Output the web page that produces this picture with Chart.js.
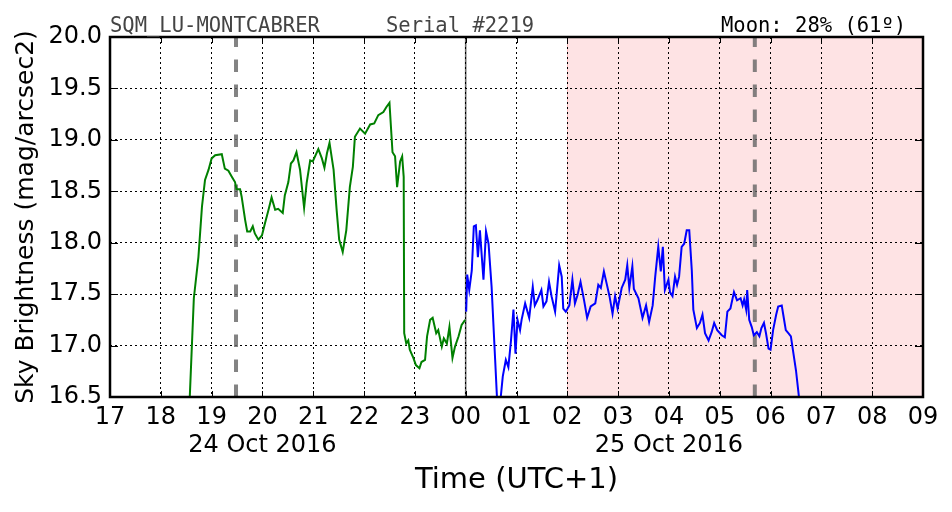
<!DOCTYPE html>
<html lang="en">
<head>
<meta charset="UTF-8">
<title>SQM_LU-MONTCABRER</title>
<script src="https://cdn.jsdelivr.net/npm/chart.js@4"></script>
<style>
    html, body { margin: 0; padding: 0; background: #ffffff; }
    #wrap { width: 952px; height: 512px; }
</style>
</head>
<body>
<div id="wrap"><canvas id="sqmChart" width="952" height="512"></canvas></div>
<script>
// hours counted from 24 Oct 2016 00:00 (UTC+1), brightness in mag/arcsec2
const eveningHours = [18.50, 18.57, 18.65, 18.74, 18.81, 18.87, 18.94, 19.00, 19.07, 19.20, 19.26, 19.33, 19.40, 19.46,
    19.49, 19.56, 19.59, 19.66, 19.70, 19.76, 19.81, 19.85, 19.92, 19.99, 20.05, 20.12, 20.18, 20.25, 20.31, 20.40,
    20.44, 20.51, 20.56, 20.61, 20.67, 20.74, 20.82, 20.87, 20.94, 20.99, 21.10, 21.17, 21.22, 21.27, 21.32, 21.40,
    21.46, 21.51, 21.58, 21.65, 21.72, 21.78, 21.82, 21.92, 22.02, 22.12, 22.20, 22.28, 22.38, 22.44, 22.50, 22.56,
    22.61, 22.65, 22.71, 22.75, 22.78, 22.79, 22.83, 22.87, 22.90, 22.97, 23.02, 23.09, 23.13, 23.20, 23.24, 23.30,
    23.35, 23.42, 23.46, 23.53, 23.57, 23.63, 23.68, 23.74, 23.79, 23.86, 23.92, 23.99];
const eveningMag = [16.30, 16.50, 17.46, 17.86, 18.35, 18.61, 18.71, 18.82, 18.85, 18.86, 18.72, 18.70, 18.64, 18.59,
    18.52, 18.52, 18.45, 18.22, 18.11, 18.11, 18.16, 18.09, 18.03, 18.07, 18.19, 18.32, 18.44, 18.32, 18.33, 18.29,
    18.46, 18.59, 18.77, 18.80, 18.88, 18.71, 18.34, 18.58, 18.80, 18.79, 18.91, 18.82, 18.73, 18.87, 18.97, 18.71,
    18.32, 18.03, 17.91, 18.12, 18.54, 18.74, 19.03, 19.11, 19.06, 19.15, 19.16, 19.24, 19.27, 19.32, 19.36, 18.88,
    18.84, 18.54, 18.79, 18.84, 18.64, 17.12, 17.02, 17.05, 16.96, 16.88, 16.81, 16.78, 16.84, 16.86, 17.09, 17.25,
    17.27, 17.12, 17.15, 16.99, 17.07, 17.02, 17.18, 16.88, 16.99, 17.09, 17.20, 17.25];

const morningHours = [24.01, 24.03, 24.07, 24.12, 24.16, 24.20, 24.24, 24.28, 24.35, 24.40, 24.45, 24.51, 24.58, 24.62,
    24.68, 24.73, 24.79, 24.84, 24.89, 24.94, 24.98, 25.02, 25.07, 25.10, 25.17, 25.25, 25.32, 25.36, 25.41, 25.49,
    25.53, 25.59, 25.64, 25.69, 25.76, 25.84, 25.89, 25.92, 25.97, 26.04, 26.10, 26.15, 26.20, 26.26, 26.33, 26.39,
    26.46, 26.55, 26.61, 26.66, 26.72, 26.78, 26.83, 26.89, 26.94, 26.99, 27.07, 27.14, 27.18, 27.22, 27.28, 27.31,
    27.40, 27.48, 27.55, 27.61, 27.68, 27.73, 27.79, 27.84, 27.88, 27.92, 27.99, 28.02, 28.07, 28.12, 28.16, 28.20,
    28.25, 28.30, 28.35, 28.40, 28.45, 28.48, 28.55, 28.61, 28.66, 28.71, 28.78, 28.84, 28.89, 28.95, 29.04, 29.10,
    29.15, 29.21, 29.28, 29.34, 29.41, 29.45, 29.48, 29.52, 29.54, 29.58, 29.63, 29.67, 29.73, 29.78, 29.82, 29.87,
    29.91, 29.96, 30.00, 30.05, 30.11, 30.15, 30.22, 30.25, 30.30, 30.35, 30.40, 30.43, 30.50, 30.57];
const morningMag = [17.33, 17.69, 17.54, 17.73, 18.16, 18.17, 17.86, 18.12, 17.64, 18.11, 17.99, 17.57, 16.86, 16.45,
    16.45, 16.70, 16.86, 16.79, 17.04, 17.35, 16.92, 17.25, 17.15, 17.25, 17.41, 17.27, 17.57, 17.39, 17.44, 17.54,
    17.38, 17.43, 17.62, 17.48, 17.33, 17.78, 17.67, 17.36, 17.33, 17.39, 17.64, 17.41, 17.49, 17.62, 17.44, 17.27,
    17.38, 17.41, 17.59, 17.56, 17.72, 17.59, 17.48, 17.31, 17.48, 17.36, 17.56, 17.64, 17.78, 17.56, 17.77, 17.55,
    17.46, 17.27, 17.39, 17.23, 17.39, 17.67, 17.96, 17.72, 17.96, 17.54, 17.64, 17.52, 17.48, 17.67, 17.59, 17.67,
    17.96, 17.99, 18.12, 18.12, 17.73, 17.35, 17.17, 17.22, 17.30, 17.12, 17.05, 17.13, 17.22, 17.15, 17.10, 17.08,
    17.33, 17.36, 17.52, 17.44, 17.46, 17.39, 17.45, 17.35, 17.54, 17.25, 17.18, 17.10, 17.13, 17.09, 17.17, 17.22,
    17.12, 16.97, 16.96, 17.15, 17.30, 17.38, 17.39, 17.30, 17.15, 17.12, 17.09, 16.99, 16.76, 16.45];

const moonLines = [19.48, 29.69];      // dashed grey markers
const twilightBand = [26, 33];         // shaded pink span
const midnightHour = 24;
const dateTickHours = [20, 28];
const dateTickText = ['24 Oct 2016', '25 Oct 2016'];

const headerLeft = 'SQM_LU-MONTCABRER';
const headerMid = 'Serial #2219';
const headerRight = 'Moon: 28% (61º)';

Chart.defaults.font.family = '"DejaVu Sans", sans-serif';
Chart.defaults.color = '#000000';

function toPoints(xs, ys) {
    return xs.map((x, i) => ({ x: x, y: ys[i] }));
}

// extra drawing: pink band, marker lines, frame, inward ticks, header
const decorPlugin = {
    id: 'decor',
    beforeDraw(chart) {
        const { ctx, chartArea: a, scales: { x } } = chart;
        const x0 = x.getPixelForValue(twilightBand[0]);
        const x1 = x.getPixelForValue(twilightBand[1]);
        ctx.save();
        ctx.fillStyle = '#fee3e4';
        ctx.fillRect(x0, a.top, x1 - x0, a.bottom - a.top);
        ctx.strokeStyle = 'rgba(255, 150, 150, 0.5)';
        ctx.lineWidth = 1;
        ctx.beginPath();
        ctx.moveTo(Math.round(x0) + 0.5, a.top);
        ctx.lineTo(Math.round(x0) + 0.5, a.bottom);
        ctx.stroke();
        ctx.restore();
    },
    beforeDatasetsDraw(chart) {
        const { ctx, chartArea: a, scales: { x } } = chart;
        ctx.save();
        // midnight
        const xm = x.getPixelForValue(midnightHour);
        ctx.strokeStyle = 'rgba(0, 0, 0, 0.6)';
        ctx.lineWidth = 1.6;
        ctx.beginPath();
        ctx.moveTo(xm, a.top);
        ctx.lineTo(xm, a.bottom);
        ctx.stroke();
        // moon
        ctx.strokeStyle = 'rgba(100, 100, 100, 0.8)';
        ctx.lineWidth = 4;
        ctx.setLineDash([12.5, 12.5]);
        moonLines.forEach(h => {
            const px = x.getPixelForValue(h);
            ctx.beginPath();
            ctx.moveTo(px, a.bottom);
            ctx.lineTo(px, a.top);
            ctx.stroke();
        });
        ctx.restore();
    },
    afterDraw(chart) {
        const { ctx, chartArea: a, scales: { x, y } } = chart;
        ctx.save();
        // inward ticks
        ctx.strokeStyle = '#000';
        ctx.lineWidth = 1;
        x.ticks.forEach(t => {
            const px = Math.round(x.getPixelForValue(t.value)) + 0.5;
            ctx.beginPath();
            ctx.moveTo(px, a.bottom); ctx.lineTo(px, a.bottom - 6);
            ctx.moveTo(px, a.top); ctx.lineTo(px, a.top + 6);
            ctx.stroke();
        });
        y.ticks.forEach(t => {
            const py = Math.round(y.getPixelForValue(t.value)) + 0.5;
            ctx.beginPath();
            ctx.moveTo(a.left, py); ctx.lineTo(a.left + 8, py);
            ctx.moveTo(a.right, py); ctx.lineTo(a.right - 8, py);
            ctx.stroke();
        });
        // frame
        ctx.lineWidth = 2.5;
        ctx.strokeRect(a.left, a.top, a.right - a.left, a.bottom - a.top);
        // header
        ctx.font = '20.5px "DejaVu Sans Mono", monospace';
        ctx.textBaseline = 'alphabetic';
        ctx.textAlign = 'left';
        ctx.fillStyle = '#444444';
        ctx.fillText(headerLeft, a.left, a.top - 5);
        ctx.fillText(headerMid, 386, a.top - 5);
        ctx.fillStyle = '#000000';
        ctx.fillText(headerRight, 721, a.top - 5);
        ctx.restore();
    }
};

const ctx = document.getElementById('sqmChart').getContext('2d');
new Chart(ctx, {
    type: 'line',
    data: {
        datasets: [{
            label: 'evening',
            data: toPoints(eveningHours, eveningMag),
            borderColor: '#008000',
            borderWidth: 2,
            pointRadius: 0,
            tension: 0,
            fill: false,
            clip: 0
        }, {
            label: 'morning',
            data: toPoints(morningHours, morningMag),
            borderColor: '#0000ff',
            borderWidth: 2,
            pointRadius: 0,
            tension: 0,
            fill: false,
            clip: 0
        }]
    },
    options: {
        responsive: false,
        animation: false,
        layout: { padding: { top: 37, right: 29, left: 0, bottom: 0 } },
        plugins: {
            legend: { display: false },
            tooltip: { enabled: false }
        },
        scales: {
            x: {
                type: 'linear',
                min: 17,
                max: 33,
                afterFit: s => { s.height = 115; },
                grid: { color: '#000000', lineWidth: 1, drawTicks: false },
                border: { display: false, dash: [2, 3] },
                ticks: {
                    stepSize: 1,
                    autoSkip: false,
                    maxRotation: 0,
                    minRotation: 0,
                    padding: 6,
                    font: { size: 24, lineHeight: 1.2 },
                    callback: v => {
                        const hh = String(v % 24).padStart(2, '0');
                        const i = dateTickHours.indexOf(v);
                        return i >= 0 ? [hh, dateTickText[i]] : hh;
                    }
                },
                title: {
                    display: true,
                    text: 'Time (UTC+1)',
                    font: { size: 29, lineHeight: 1.2 },
                    padding: { top: 0, bottom: 14 }
                }
            },
            y: {
                min: 16.5,
                max: 20,
                afterFit: s => { s.width = 110; },
                grid: { color: '#000000', lineWidth: 1, drawTicks: false },
                border: { display: false, dash: [2, 3] },
                ticks: {
                    stepSize: 0.5,
                    padding: 8,
                    font: { size: 24 },
                    callback: v => v.toFixed(1)
                },
                title: {
                    display: true,
                    text: 'Sky Brightness (mag/arcsec2)',
                    font: { size: 25, lineHeight: 1.2 },
                    padding: { top: 11, bottom: 0 }
                }
            }
        }
    },
    plugins: [decorPlugin]
});
</script>
</body>
</html>
